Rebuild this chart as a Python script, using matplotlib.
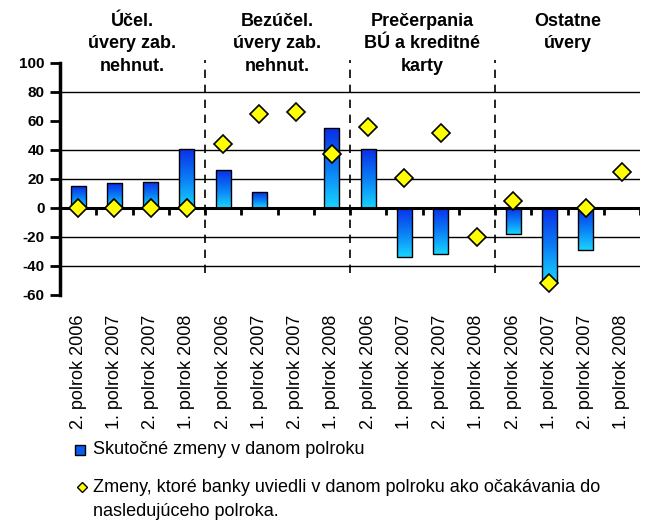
import numpy as np
import matplotlib
matplotlib.use('Agg')
import matplotlib.pyplot as plt
from matplotlib.lines import Line2D
from matplotlib.patches import Rectangle
from matplotlib.colors import LinearSegmentedColormap

plt.rcParams['font.family'] = ['Liberation Sans', 'DejaVu Sans']

# --- data ---
periods = ['2. polrok 2006', '1. polrok 2007', '2. polrok 2007', '1. polrok 2008'] * 4
groups = ['Účel.\núvery zab.\nnehnut.', 'Bezúčel.\núvery zab.\nnehnut.',
          'Prečerpania\nBÚ a kreditné\nkarty', 'Ostatne\núvery']
actual = [15, 17, 18, 41, 26, 11, 0, 55, 41, -34, -32, 0, -18, -52, -29, 0]
expected = [0, 0, 0, 0, 44, 65, 66, 37, 56, 21, 52, -20, 5, -52, 0, 25]
y_ticks = [-60, -40, -20, 0, 20, 40, 60, 80, 100]
grid_levels = [-40, -20, 20, 40, 80]

fig = plt.figure(figsize=(6.46, 5.24), dpi=100)
ax = fig.add_axes([60 / 646, 1 - 295 / 524, 580 / 646, 232 / 524])

x = np.arange(len(actual))
ax.set_xlim(-0.5, len(actual) - 0.5)
ax.set_ylim(-60, 100)

for g in grid_levels:
    ax.axhline(g, color='black', lw=1.0, zorder=1)

# bars with a vertical blue gradient
cmap = LinearSegmentedColormap.from_list('bl', ['#0a2ee8', '#0a7cf5', '#18d4ff'])
grad = np.linspace(0, 1, 100).reshape(-1, 1)
bw = 0.42
for xi, v in zip(x, actual):
    if v == 0:
        continue
    lo, hi = min(0, v), max(0, v)
    rect = Rectangle((xi - bw / 2, lo), bw, hi - lo, facecolor='none',
                     edgecolor='black', lw=1.0, zorder=4)
    ax.add_patch(rect)
    im = ax.imshow(grad, cmap=cmap, aspect='auto', zorder=3, origin='upper',
                   extent=(xi - bw / 2, xi + bw / 2, lo, hi))
    im.set_clip_path(rect)

# zero axis line with ticks at category boundaries
ax.axhline(0, color='black', lw=2.2, zorder=5)
for b in np.arange(0.5, len(actual), 1.0):
    ax.plot([b, b], [0, -5], color='black', lw=2, zorder=5, solid_capstyle='butt')

# group separators
for b in [3.5, 7.5, 11.5]:
    ax.plot([b, b], [-45, 102], color='black', lw=1.2, ls=(0, (5, 4)),
            zorder=2, clip_on=False)

ax.plot(x, expected, ls='none', marker='D', markersize=9.5,
        markerfacecolor='#ffff00', markeredgecolor='black', markeredgewidth=1.2, zorder=6)

# axes styling
for s in ['top', 'right', 'bottom']:
    ax.spines[s].set_visible(False)
ax.spines['left'].set_linewidth(2.5)
ax.set_yticks(y_ticks)
ax.set_yticklabels([str(t) for t in y_ticks], fontsize=11, fontweight='bold')
ax.tick_params(axis='y', direction='out', length=7, width=2, pad=4)
ax.set_xticks([])

for xi, lab in zip(x, periods):
    ax.text(xi, -0.085, lab, rotation=90, ha='center', va='top', fontsize=13,
            transform=ax.get_xaxis_transform(), clip_on=False)

for i, lab in enumerate(groups):
    ax.text(4 * i + 1.5, 1.215, lab, ha='center', va='top', fontsize=13,
            fontweight='bold', transform=ax.get_xaxis_transform(),
            linespacing=1.4, clip_on=False)

# legend
fig.add_artist(Rectangle((75 / 646, 1 - 455 / 524), 10 / 646, 10 / 524,
                         transform=fig.transFigure, facecolor='#0a5cf0',
                         edgecolor='black', lw=1))
fig.text(93 / 646, 1 - 450 / 524, 'Skutočné zmeny v danom polroku',
         fontsize=13, va='center')
fig.add_artist(Line2D([82 / 646], [1 - 487 / 524], transform=fig.transFigure,
                      marker='D', markersize=5.5, markerfacecolor='#ffff00',
                      markeredgecolor='black', ls='none'))
fig.text(93 / 646, 1 - 488 / 524,
         'Zmeny, ktoré banky uviedli v danom polroku ako očakávania do',
         fontsize=13, va='center')
fig.text(93 / 646, 1 - 511 / 524, 'nasledujúceho polroka.',
         fontsize=13, va='center')

fig.savefig('out.png', dpi=100)
